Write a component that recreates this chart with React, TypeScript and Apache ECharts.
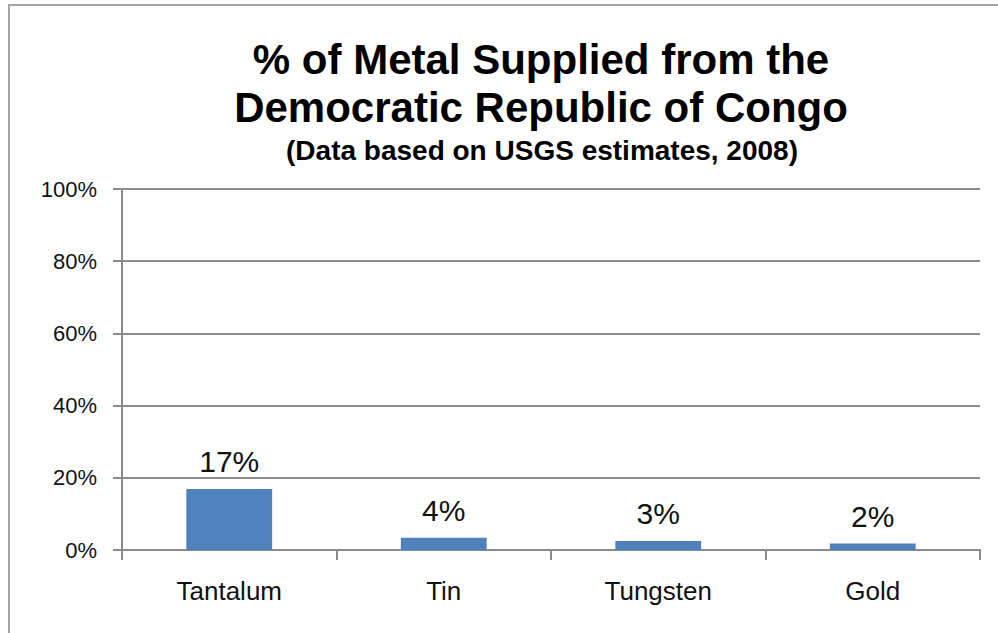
import React, { useEffect, useRef } from "react";
import * as echarts from "echarts";

const categories = ["Tantalum", "Tin", "Tungsten", "Gold"];
const values = [16.9, 3.4, 2.5, 1.8];
const valueLabels = ["17%", "4%", "3%", "2%"];
const yTicks = [0, 20, 40, 60, 80, 100];
const titleLines = ["% of Metal Supplied from the", "Democratic Republic of Congo"];
const subtitle = "(Data based on USGS estimates, 2008)";

const FONT = "'Liberation Sans', Arial, sans-serif";

export default function App() {
  const ref = useRef<HTMLDivElement>(null);
  useEffect(() => {
    if (!ref.current) return;
    const chart = echarts.init(ref.current, null, { renderer: "svg" });
    chart.setOption({
      animation: false,
      backgroundColor: "#ffffff",
      textStyle: { fontFamily: FONT },
      grid: { left: 122, right: 18, top: 189, bottom: 83, containLabel: false },
      graphic: [
        { type: "line", shape: { x1: 8, y1: 5, x2: 998, y2: 5 }, style: { stroke: "#a6a6a6", lineWidth: 2 } },
        { type: "line", shape: { x1: 9, y1: 5, x2: 9, y2: 633 }, style: { stroke: "#a6a6a6", lineWidth: 2 } },
        {
          type: "text", x: 541, y: 59,
          style: { text: titleLines[0], font: `bold 42px ${FONT}`, fill: "#000", textAlign: "center", textVerticalAlign: "middle" },
        },
        {
          type: "text", x: 541, y: 107,
          style: { text: titleLines[1], font: `bold 42px ${FONT}`, fill: "#000", textAlign: "center", textVerticalAlign: "middle" },
        },
        {
          type: "text", x: 542, y: 150,
          style: { text: subtitle, font: `bold 28px ${FONT}`, fill: "#000", textAlign: "center", textVerticalAlign: "middle" },
        },
      ],
      xAxis: {
        type: "category",
        data: categories,
        axisLine: { lineStyle: { color: "#8c8c8c", width: 2 } },
        axisTick: { show: true, length: 10, alignWithLabel: false, lineStyle: { color: "#8c8c8c", width: 2 } },
        axisLabel: { color: "#111", fontSize: 26, fontFamily: FONT, margin: 28 },
        splitLine: { show: false },
      },
      yAxis: {
        type: "value",
        min: 0,
        max: 100,
        interval: 20,
        axisLine: { show: true, lineStyle: { color: "#8c8c8c", width: 2 } },
        axisTick: { show: true, length: 9, lineStyle: { color: "#8c8c8c", width: 2 } },
        axisLabel: {
          color: "#111", fontSize: 22, fontFamily: FONT, margin: 25,
          formatter: (v: number) => (yTicks.includes(v) ? `${v}%` : ""),
        },
        splitLine: { show: true, lineStyle: { color: "#8c8c8c", width: 2 } },
      },
      series: [
        {
          type: "bar",
          data: values,
          barWidth: "40%",
          itemStyle: { color: "#4F81BD" },
          label: {
            show: true,
            position: "top",
            distance: 12,
            color: "#111",
            fontSize: 30,
            fontFamily: FONT,
            formatter: (p: any) => valueLabels[p.dataIndex],
          },
        },
      ],
    });
    return () => chart.dispose();
  }, []);
  return <div ref={ref} style={{ width: 998, height: 633, position: "absolute", left: 0, top: 0 }} />;
}
